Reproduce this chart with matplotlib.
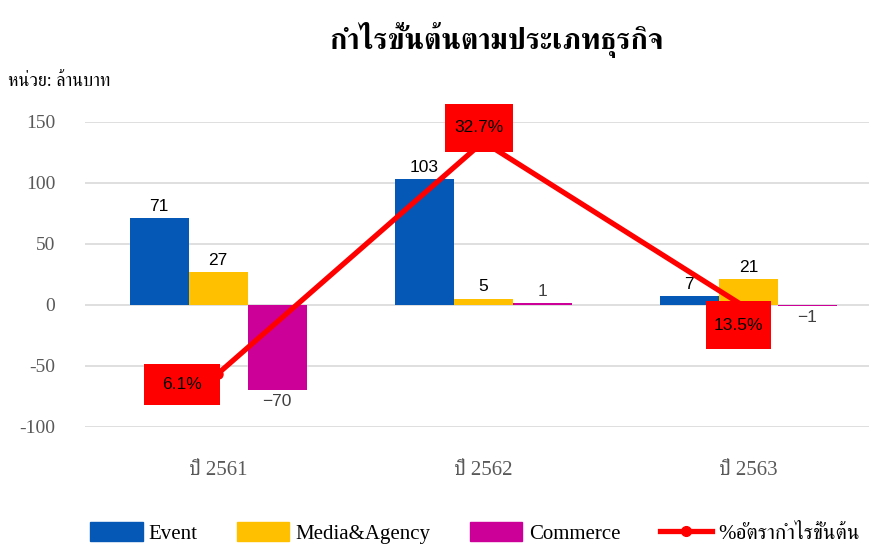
import matplotlib
matplotlib.use("Agg")
import matplotlib.pyplot as plt
from matplotlib import font_manager, ft2font
from matplotlib.patches import Patch
from matplotlib.lines import Line2D
import numpy as np

# ข้อมูล
categories = ['ปี 2561', 'ปี 2562', 'ปี 2563']
series_names = ['Event', 'Media&Agency', 'Commerce']
event = [71, 103, 7]
media = [27, 5, 21]
commerce = [-70, 1, -1]
margin_pct = [6.1, 32.7, 13.5]
line_name = '%อัตรากำไรขั้นต้น'
yticks = [-100, -50, 0, 50, 100, 150]


def thai_fonts():
    # หาฟอนต์ที่มีตัวอักษรไทย
    names = []
    for f in font_manager.fontManager.ttflist:
        try:
            cmap = ft2font.FT2Font(f.fname).get_charmap()
        except Exception:
            continue
        if 0x0E01 in cmap and f.name not in names:
            names.append(f.name)
    return names


thai = thai_fonts()
prefer = ['FreeSerif', 'Norasi', 'Kinnari', 'Laksaman']
thai = [n for n in prefer if n in thai] + [n for n in thai if n not in prefer]
serif = ['Liberation Serif'] + thai[:1] + ['DejaVu Sans']
sans = ['Liberation Sans'] + thai[:1] + ['DejaVu Sans']
plt.rcParams['font.family'] = serif

colors = ['#0558B5', '#FFC000', '#CC0099']
red = '#FF0000'

fig = plt.figure(figsize=(8.7, 5.45), dpi=100)
ax = fig.add_axes([85.5 / 870, 1 - 426.7 / 545, (881 - 85.5) / 870, (426.7 - 121.7) / 545])

x = np.arange(len(categories))
w = 0.2226
for i, vals in enumerate([event, media, commerce]):
    xs = x + (i - 1) * w
    ax.bar(xs, vals, width=w, color=colors[i], zorder=2)
    for xi, v in zip(xs, vals):
        lc = '#404040' if i == 2 else '#000000'
        if v >= 0:
            ax.annotate(str(v), (xi, v), xytext=(0, 3), textcoords='offset points',
                        ha='center', va='bottom', fontsize=12.5, color=lc, family=sans)
        else:
            ax.annotate(str(v).replace('-', '\u2212'), (xi, v), xytext=(0, -3),
                        textcoords='offset points', ha='center', va='top',
                        fontsize=12.5, color=lc, family=sans)

ax.set_xlim(-0.5, 2.5)
ax.set_ylim(-100, 150)
ax.set_yticks(yticks)
ax.set_yticklabels([str(t) for t in yticks])
ax.set_xticks(x)
ax.set_xticklabels(categories)
ax.grid(axis='y', color='#D9D9D9', linewidth=1.2, zorder=0)
ax.set_axisbelow(True)
for s in ax.spines.values():
    s.set_visible(False)
ax.tick_params(axis='y', length=0, pad=21.6, labelsize=14, labelcolor='#595959')
ax.tick_params(axis='x', length=0, pad=25, labelsize=15, labelcolor='#595959')

# แกนรอง สำหรับ % อัตรากำไร
ax2 = ax.twinx()
ax2.set_ylim(0, 35)
ax2.axis('off')
ax2.plot(x, margin_pct, color=red, linewidth=3.8, marker='o', markersize=6.5,
         solid_capstyle='round', zorder=3)
offsets = [(-26, -8), (-3, 10), (-7, -11.5)]
box_pads = [(1.07, 0.70), (0.52, 1.83), (0.46, 2.06)]
for xi, v, off, (p, a) in zip(x, margin_pct, offsets, box_pads):
    ax2.annotate(f'{v}%', (xi, v), xytext=off, textcoords='offset points',
                 ha='center', va='center', fontsize=12.5, color='#000000', family=sans,
                 bbox=dict(boxstyle=f'square,pad={p}', mutation_aspect=a, fc=red, ec='none'),
                 zorder=4)

fig.text(497 / 870, 1 - 40 / 545, 'กำไรขั้นต้นตามประเภทธุรกิจ', ha='center', va='center',
         fontsize=21, fontweight='bold', color='#000000')
fig.text(8 / 870, 1 - 81 / 545, 'หน่วย: ล้านบาท', ha='left', va='center', fontsize=13,
         color='#000000')

handles = [Patch(color=c) for c in colors]
handles.append(Line2D([0], [0], color=red, linewidth=3.8, marker='o', markersize=7))
fig.legend(handles, series_names + [line_name], loc='center', ncol=4,
           bbox_to_anchor=(475 / 870, 1 - 533 / 545), frameon=False, fontsize=15,
           handlelength=2.5, handleheight=1.0, handletextpad=0.3, columnspacing=1.9)

fig.savefig('out.png', dpi=100)
